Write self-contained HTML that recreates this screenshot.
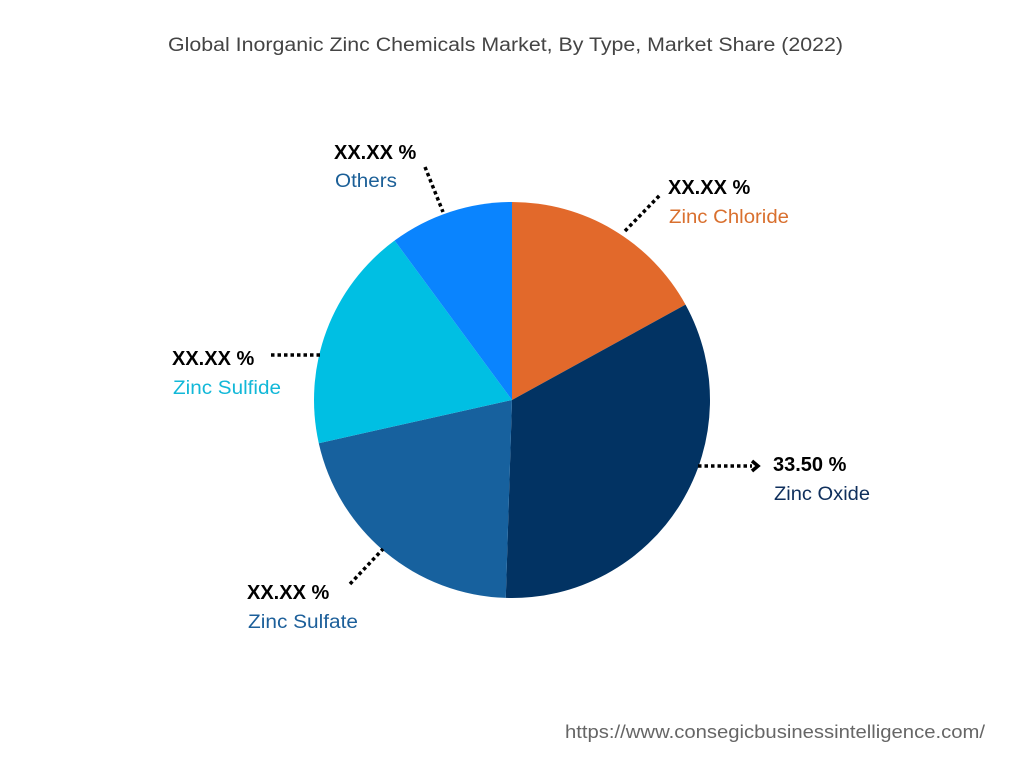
<!DOCTYPE html>
<html><head><meta charset="utf-8">
<style>
html,body{margin:0;padding:0;background:#fff;width:1024px;height:768px;overflow:hidden;font-family:"Liberation Sans",sans-serif;}
</style></head>
<body>
<svg id="chart" width="1024" height="768">
  <text x="168" y="51" textLength="675" lengthAdjust="spacingAndGlyphs" font-size="19" fill="#444">Global Inorganic Zinc Chemicals Market, By Type, Market Share (2022)</text>
  <g id="slices"></g>
  <g id="labels"></g>
  <text x="565" y="738" textLength="420" lengthAdjust="spacingAndGlyphs" font-size="18" fill="#666">https://www.consegicbusinessintelligence.com/</text>
</svg>
<script>
const categories = ["Zinc Chloride","Zinc Oxide","Zinc Sulfate","Zinc Sulfide","Others"];
const shares = [17.0, 33.5, 21.0, 18.4, 10.1];
const valueLabels = ["XX.XX %","33.50 %","XX.XX %","XX.XX %","XX.XX %"];
const colors = ["#E2692B","#023363","#17619E","#00BFE3","#0A84FE"];
const labelColors = ["#D9702F","#0F2F5C","#1C5F9A","#12B8D8","#1B5F97"];

const cx=512, cy=400, R=198;
const NS="http://www.w3.org/2000/svg";
const total = shares.reduce((a,b)=>a+b,0);
function pt(angDeg, r){const a=angDeg*Math.PI/180;return [cx+r*Math.sin(a), cy-r*Math.cos(a)];}
const sg=document.getElementById('slices'), lg=document.getElementById('labels');
let start=0;
const layout=[[668,194,223,120],[773,471,500,96],[247,599,628,110],[172,365,394,108],[334,159,187,62]];
const leaders=[[625,231,660,195],[698,466,752,466],[350,584,383,549],[271,355,320,355],[425,167,443,212]];
shares.forEach((v,i)=>{
  const sweep=v/total*360, end=start+sweep;
  const [x1,y1]=pt(start,R),[x2,y2]=pt(end,R);
  const p=document.createElementNS(NS,'path');
  p.setAttribute('d',`M${cx},${cy} L${x1},${y1} A${R},${R} 0 ${sweep>180?1:0} 1 ${x2},${y2} Z`);
  p.setAttribute('fill',colors[i]);
  
  
  sg.appendChild(p);
  const [lx1,ly1,lx2,ly2]=leaders[i];
  const l=document.createElementNS(NS,'line');
  l.setAttribute('x1',lx1);l.setAttribute('y1',ly1);l.setAttribute('x2',lx2);l.setAttribute('y2',ly2);
  l.setAttribute('stroke','#000');l.setAttribute('stroke-width','3.5');l.setAttribute('stroke-dasharray','3.5 3');
  
  
  lg.appendChild(l);
  if(i===1){
    const ar=document.createElementNS(NS,'polyline');
    ar.setAttribute('points','752,461 758,466 752,471');ar.setAttribute('fill','none');ar.setAttribute('stroke','#000');ar.setAttribute('stroke-width','3.5');
    
    
    lg.appendChild(ar);
  }
  const [tx,tyv,tyn,tw]=layout[i];
  const t1=document.createElementNS(NS,'text');
  t1.setAttribute('x',tx);t1.setAttribute('y',tyv);t1.setAttribute('font-size','20');t1.setAttribute('font-weight','bold');t1.setAttribute('fill','#000');
  t1.textContent=valueLabels[i];
  
  
  lg.appendChild(t1);
  const t2=document.createElementNS(NS,'text');
  t2.setAttribute('x',tx+1);t2.setAttribute('y',tyn);t2.setAttribute('font-size','19');t2.setAttribute('fill',labelColors[i]);
  t2.setAttribute('textLength',tw);t2.setAttribute('lengthAdjust','spacingAndGlyphs');
  t2.textContent=categories[i];
  
  
  lg.appendChild(t2);
  start=end;
});
</script>
</body></html>
